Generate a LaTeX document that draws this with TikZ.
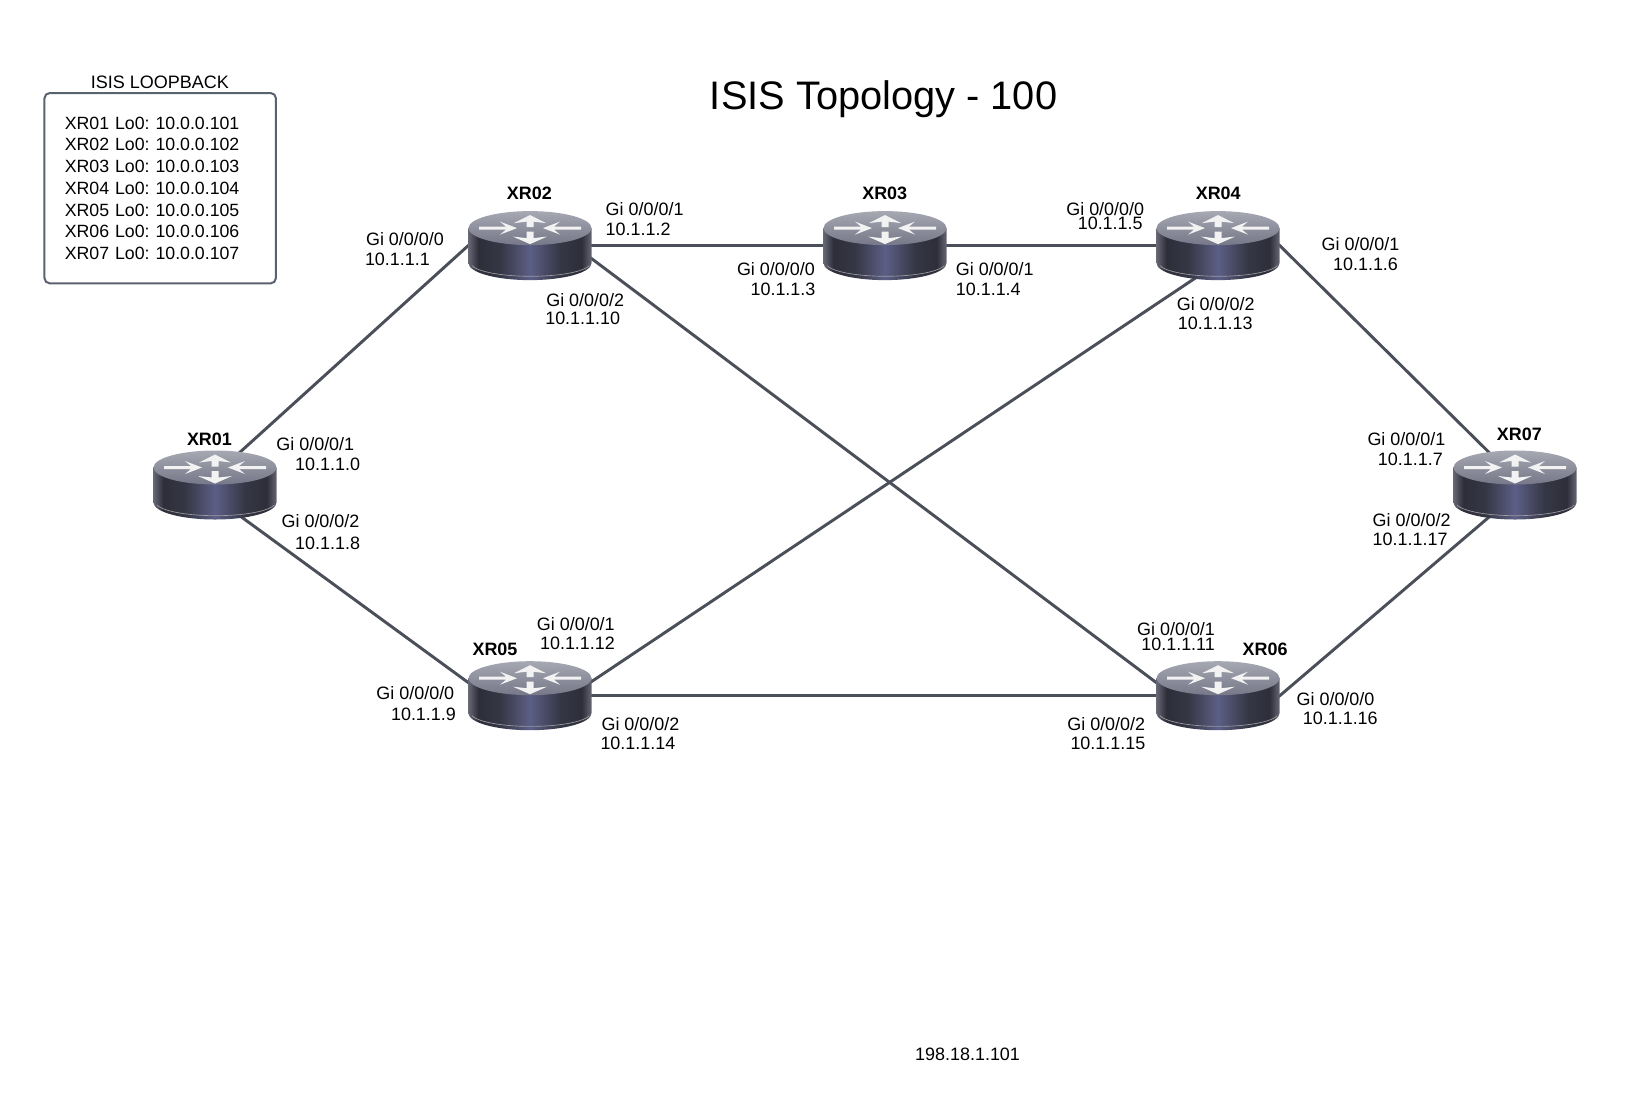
\documentclass[tikz,border=0pt]{standalone}
\usepackage{fontspec}
\setmainfont{Liberation Sans}
\pgfdeclarelayer{bg}
\pgfsetlayers{bg,main}
\definecolor{linkcol}{HTML}{4A4F59}
\definecolor{boxcol}{HTML}{5A6270}
\definecolor{rb0}{HTML}{666774}
\definecolor{rb1}{HTML}{2E2E3A}
\definecolor{rb2}{HTML}{363745}
\definecolor{rb3}{HTML}{5C5F86}
\definecolor{rt0}{HTML}{767788}
\definecolor{rt1}{HTML}{A6A8B2}
\pgfdeclarehorizontalshading{routerbody}{100bp}{
  color(0bp)=(rb0);
  color(25bp)=(rb0);
  color(29bp)=(rb1);
  color(38bp)=(rb2);
  color(50bp)=(rb3);
  color(62bp)=(rb2);
  color(71bp)=(rb1);
  color(75bp)=(rb0);
  color(100bp)=(rb0)}
\pgfdeclareverticalshading{routertop}{100bp}{
  color(0bp)=(rt0);
  color(25bp)=(rt0);
  color(75bp)=(rt1);
  color(100bp)=(rt1)}
\tikzset{
  routernode/.style={rectangle,minimum width=92.25pt,minimum height=51.75pt,inner sep=0pt},
  link/.style={draw=linkcol,line width=2.2pt,shorten <=-4pt,shorten >=-4pt},
  lbl/.style={anchor=base west,inner sep=0pt,yshift=-5.2pt,font=\fontsize{13.45}{16}\selectfont},
  rname/.style={anchor=base,inner sep=0pt,yshift=-5.2pt,font=\fontsize{13.45}{16}\selectfont\bfseries},
  routerart/.pic={
    \path[shading=routerbody] (-61.5,-17.5) -- (-61.5,17.5) arc[start angle=180,end angle=0,x radius=61.5,y radius=17] -- (61.5,-17.5) -- cycle;
    \draw[white!50!rb2,line width=0.5pt] (-58,20) arc[start angle=168,end angle=12,x radius=60,y radius=13.5];
    \path[shading=routertop] (0,-17.5) ellipse[x radius=61.5,y radius=17];
    \fill[white!95!black] (0,-30.5) -- (16,-22.5) -- (3.5,-24) -- (3.5,-18.5) -- (-3.5,-18.5) -- (-3.5,-24) -- (-16,-22.5) -- cycle;
    \fill[white!95!black] (0,-1.5) -- (17,-9) -- (3.5,-7.5) -- (3.5,-14) -- (-3.5,-14) -- (-3.5,-7.5) -- (-17,-9) -- cycle;
    \fill[white!95!black] (-13,-17.5) -- (-30,-24) -- (-24,-19) -- (-51,-19) -- (-51,-16) -- (-24,-16) -- (-30,-11) -- cycle;
    \fill[white!95!black] (13,-17.5) -- (30,-24) -- (24,-19) -- (51,-19) -- (51,-16) -- (24,-16) -- (30,-11) -- cycle;
  }
}
\begin{document}
\begin{tikzpicture}[x=0.75pt,y=-0.75pt]
\useasboundingbox (0,0) rectangle (1634,1100);
% routers
\node[routernode] (r1) at (215,485) {};
\node[routernode] (r2) at (530,245.6) {};
\node[routernode] (r3) at (885,245.6) {};
\node[routernode] (r4) at (1218,245.6) {};
\node[routernode] (r5) at (530,695.7) {};
\node[routernode] (r6) at (1218,695.7) {};
\node[routernode] (r7) at (1515,485) {};
\foreach \r in {r1,r2,r3,r4,r5,r6,r7} \pic at (\r) {routerart};
% links
\begin{pgfonlayer}{bg}
\fill[white] (0,0) rectangle (1634,1100);
\draw[link] (r1.52) -- (r2.west);
\draw[link] (r1.-49) -- (r5.168);
\draw[link] (r2.east) -- (r3.west);
\draw[link] (r2.-12) -- (r6.168);
\draw[link] (r3.east) -- (r4.west);
\draw[link] (r4.-127) -- (r5.13);
\draw[link] (r4.east) -- (r7.129);
\draw[link] (r5.east) -- (r6.west);
\draw[link] (r6.east) -- (r7.-130);
\end{pgfonlayer}
% loopback box
\node[draw=boxcol,line width=1.5pt,rounded corners=4pt,text width=143pt,inner xsep=15.3pt,inner ysep=0pt,minimum height=142.8pt,align=left,font=\fontsize{13.3}{16.3}\selectfont\frenchspacing] (box) at (160.2,188.2)
 {XR01 Lo0: 10.0.0.101\\XR02 Lo0: 10.0.0.102\\XR03 Lo0: 10.0.0.103\\XR04 Lo0: 10.0.0.104\\XR05 Lo0: 10.0.0.105\\XR06 Lo0: 10.0.0.106\\XR07 Lo0: 10.0.0.107};
\begin{scope}[scale=1.0421]
\node[anchor=base west,inner sep=0pt,font=\fontsize{29.85}{34}\selectfont] (title) at (681,105.4) {ISIS Topology - 100};
\node[anchor=base,inner sep=0pt,yshift=-5.2pt,font=\fontsize{13.5}{16}\selectfont] (boxtitle) at (153.5,78) {ISIS LOOPBACK};
\node[rname] (n1) at (201,421) {XR01};
\node[rname] (n2) at (508,185) {XR02};
\node[rname] (n3) at (849,185) {XR03};
\node[rname] (n4) at (1169,185) {XR04};
\node[rname] (n5) at (475,622) {XR05};
\node[rname] (n6) at (1214,622) {XR06};
\node[rname] (n7) at (1458,416) {XR07};
\node[lbl] (a1) at (351,229) {Gi 0/0/0/0};
\node[lbl] (b1) at (350,248) {10.1.1.1};
\node[lbl] (a2) at (581,200) {Gi 0/0/0/1};
\node[lbl] (b2) at (581,219) {10.1.1.2};
\node[lbl] (a3) at (524,287) {Gi 0/0/0/2};
\node[lbl] (b3) at (523,305) {10.1.1.10};
\node[lbl] (a4) at (707,258) {Gi 0/0/0/0};
\node[lbl] (b4) at (720,277) {10.1.1.3};
\node[lbl] (a5) at (917,258) {Gi 0/0/0/1};
\node[lbl] (b5) at (917,277) {10.1.1.4};
\node[lbl] (a6) at (1023,200) {Gi 0/0/0/0};
\node[lbl] (b6) at (1034,214) {10.1.1.5};
\node[lbl] (a7) at (1268,234) {Gi 0/0/0/1};
\node[lbl] (b7) at (1279,253) {10.1.1.6};
\node[lbl] (a8) at (1129,291) {Gi 0/0/0/2};
\node[lbl] (b8) at (1130,310) {10.1.1.13};
\node[lbl] (a9) at (265,426) {Gi 0/0/0/1};
\node[lbl] (b9) at (283,445) {10.1.1.0};
\node[lbl] (a10) at (270,500) {Gi 0/0/0/2};
\node[lbl] (b10) at (283,521) {10.1.1.8};
\node[lbl] (a11) at (1312,421) {Gi 0/0/0/1};
\node[lbl] (b11) at (1322,440) {10.1.1.7};
\node[lbl] (a12) at (1317,499) {Gi 0/0/0/2};
\node[lbl] (b12) at (1317,517) {10.1.1.17};
\node[lbl] (a13) at (515,598) {Gi 0/0/0/1};
\node[lbl] (b13) at (518,617) {10.1.1.12};
\node[lbl] (a14) at (1091,603) {Gi 0/0/0/1};
\node[lbl] (b14) at (1095,618) {10.1.1.11};
\node[lbl] (a15) at (361,665) {Gi 0/0/0/0};
\node[lbl] (b15) at (375,685) {10.1.1.9};
\node[lbl] (a16) at (577,694) {Gi 0/0/0/2};
\node[lbl] (b16) at (576,713) {10.1.1.14};
\node[lbl] (a17) at (1024,694) {Gi 0/0/0/2};
\node[lbl] (b17) at (1027,713) {10.1.1.15};
\node[lbl] (a18) at (1244,670) {Gi 0/0/0/0};
\node[lbl] (b18) at (1250,689) {10.1.1.16};
\node[lbl] (ip) at (878,1011) {198.18.1.101};
\end{scope}
\end{tikzpicture}
\end{document}
